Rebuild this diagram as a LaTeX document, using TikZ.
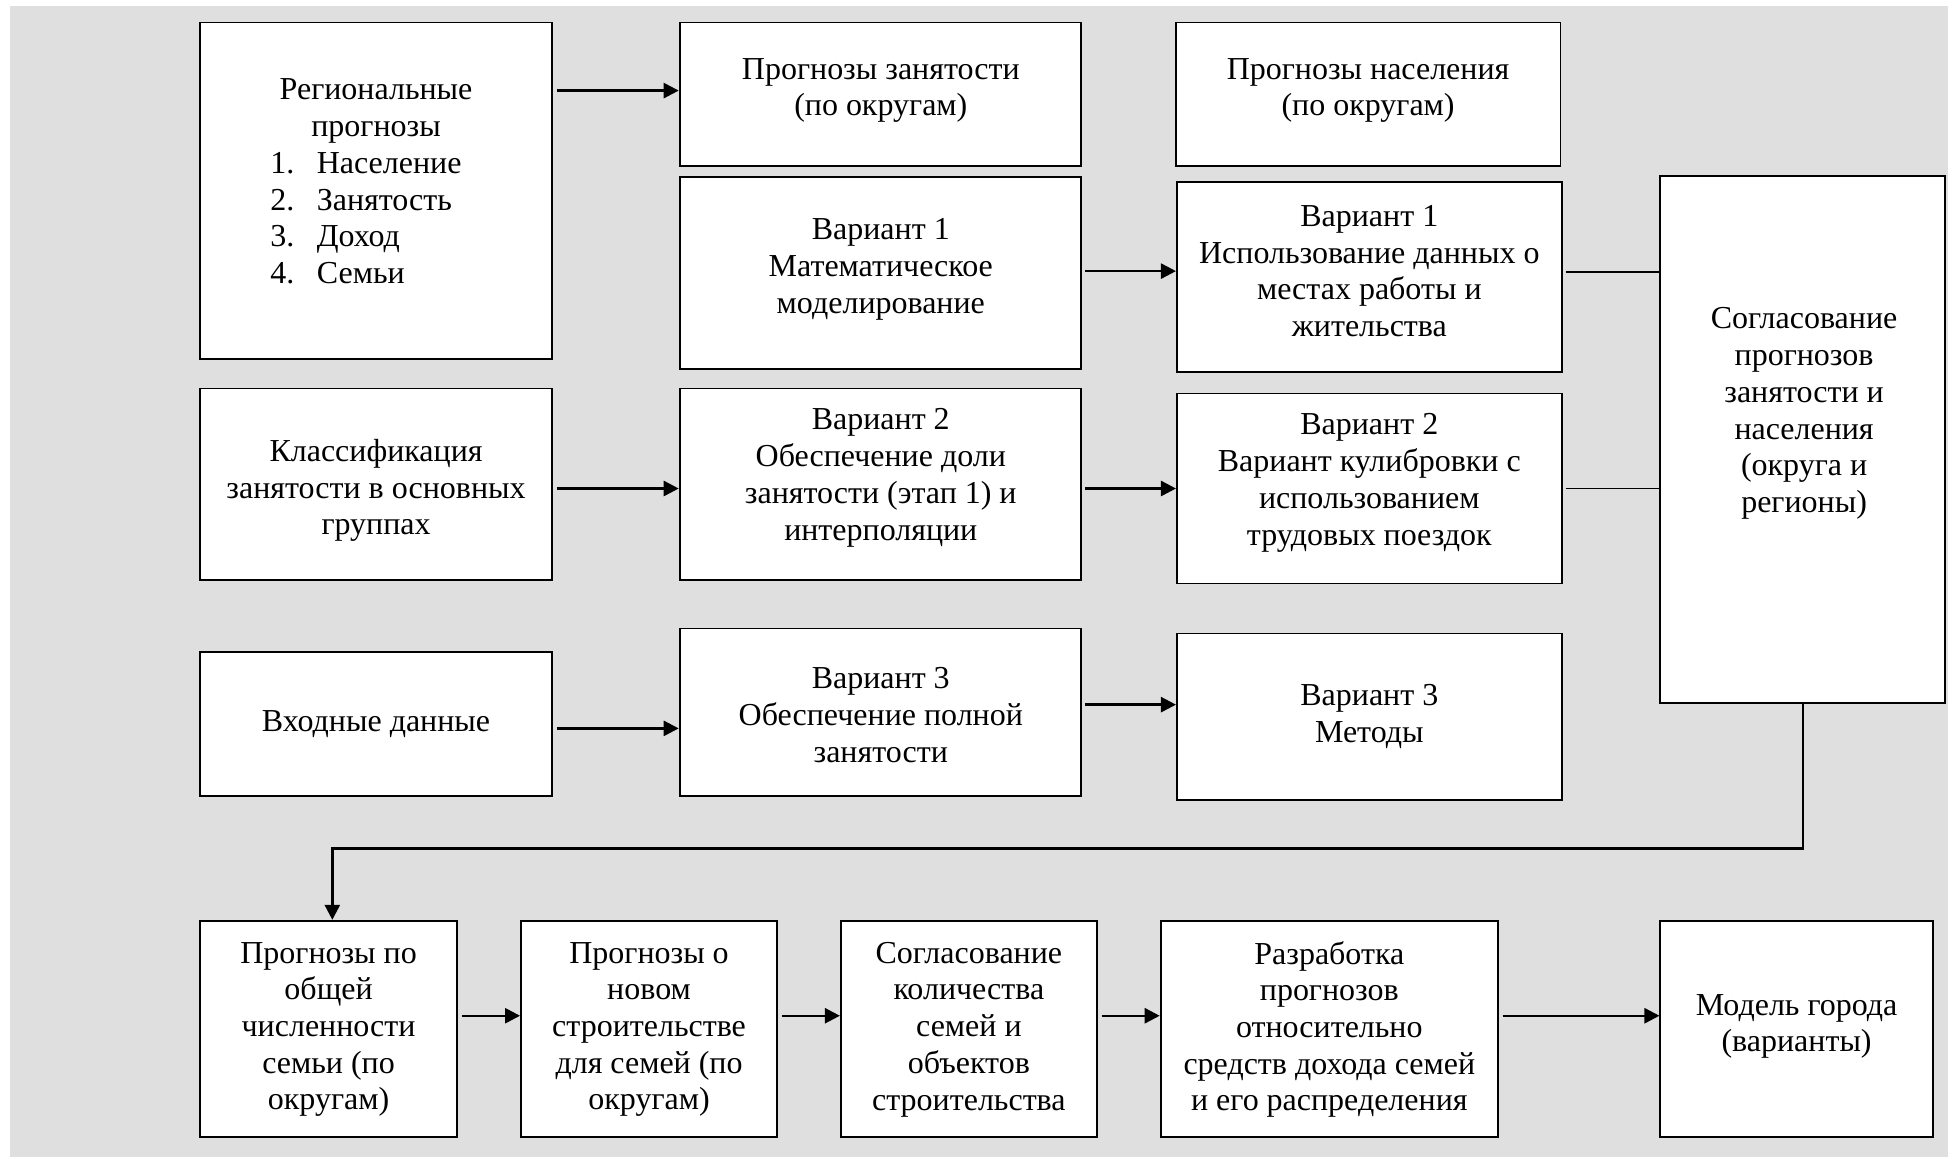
\documentclass[tikz,border=0pt]{standalone}
\usepackage{fontspec}
\setmainfont{Liberation Serif}
\usetikzlibrary{arrows.meta}
\definecolor{panel}{RGB}{223,223,223}
\begin{document}
\begin{tikzpicture}[x=0.5pt,y=-0.5pt,
  box/.style={draw=black,fill=white,line width=0.75pt,inner sep=0pt},
  txt/.style={align=center,inner sep=0pt,yshift=-1.25pt,font=\fontsize{12.8}{14.7}\selectfont},
  lst/.style={align=left,inner sep=0pt,anchor=west,yshift=-1.25pt,font=\fontsize{12.8}{14.7}\selectfont},
  arr/.style={line width=1pt,-{Triangle[length=6pt,width=6pt]},shorten <=1.5pt},
  link/.style={line width=0.75pt,shorten <=1.3pt}]
\useasboundingbox (0,0) rectangle (1568,927);
\fill[panel] (8,5) rectangle (1559,926);

% upper block of boxes
\node[box,minimum width=141pt,minimum height=134.5pt] (A) at (301,152.5) {};
\node[box,minimum width=160.5pt,minimum height=57.5pt] (B) at (704.5,75.5) {};
\node[box,minimum width=154pt,minimum height=57.5pt] (C) at (1095,75.5) {};
\node[box,minimum width=160.5pt,minimum height=76.5pt] (D) at (704.5,218.5) {};
\node[box,minimum width=154pt,minimum height=76pt] (E) at (1096,222) {};
\node[box,minimum width=114pt,minimum height=211pt] (F) at (1443,352) {};
\node[box,minimum width=141pt,minimum height=76.5pt] (G) at (301,387.5) {};
\node[box,minimum width=160.5pt,minimum height=76.5pt] (H) at (704.5,387.5) {};
\node[box,minimum width=154pt,minimum height=76pt] (I) at (1096,391) {};
\node[box,minimum width=141pt,minimum height=57.5pt] (J) at (301,579.5) {};
\node[box,minimum width=160.5pt,minimum height=67pt] (K) at (704.5,570) {};
\node[box,minimum width=154pt,minimum height=66.5pt] (L) at (1096,573.5) {};

% lower chain
\node[box,minimum width=103pt,minimum height=86.5pt] (M) at (263,823.5) {};
\node[box,minimum width=102.5pt,minimum height=86.5pt] (N) at (519.5,823.5) {};
\node[box,minimum width=102.5pt,minimum height=86.5pt] (O) at (775.5,823.5) {};
\node[box,minimum width=135pt,minimum height=86.5pt] (P) at (1064,823.5) {};
\node[box,minimum width=109pt,minimum height=86.5pt] (Q) at (1438,823.5) {};

% labels
\node[txt] (Ahead) at (301,86.5) {Региональные\\прогнозы};
\node[lst] (Alist) at (216,174.5) {%
  \begin{tabular}{@{}l@{\hspace{9pt}}l@{}}
  1.&Население\\ 2.&Занятость\\ 3.&Доход\\ 4.&Семьи
  \end{tabular}};
\node[txt] (Bt) at (705,70) {Прогнозы занятости\\(по округам)};
\node[txt] (Ct) at (1095,70) {Прогнозы населения\\(по округам)};
\node[txt] (Dt) at (705,213) {Вариант 1\\Математическое\\моделирование};
\node[txt] (Et) at (1096,214.5) {Вариант 1\\Использование данных о\\местах работы и\\жительства};
\node[txt] (Ft) at (1444,328.5) {Согласование\\прогнозов\\занятости и\\населения\\(округа и\\регионы)};
\node[txt] (Gt) at (301,390) {Классификация\\занятости в основных\\группах};
\node[txt] (Ht) at (705,380) {Вариант 2\\Обеспечение доли\\занятости (этап 1) и\\интерполяции};
\node[txt] (It) at (1096,384) {Вариант 2\\Вариант кулибровки с\\использованием\\трудовых поездок};
\node[txt] (Jt) at (301,577) {Входные данные};
\node[txt] (Kt) at (705,570) {Вариант 3\\Обеспечение полной\\занятости};
\node[txt] (Lt) at (1096,571) {Вариант 3\\Методы};
\node[txt] (Mt) at (263,821.5) {Прогнозы по\\общей\\численности\\семьи (по\\округам)};
\node[txt] (Nt) at (519.5,821.5) {Прогнозы о\\новом\\строительстве\\для семей (по\\округам)};
\node[txt] (Ot) at (775.5,821.5) {Согласование\\количества\\семей и\\объектов\\строительства};
\node[txt] (Pt) at (1064,821.5) {Разработка\\прогнозов\\относительно\\средств дохода семей\\и его распределения};
\node[txt] (Qt) at (1438,819) {Модель города\\(варианты)};

% connectors
\draw[arr] (A.east |- 0,72.5) -- (B.west |- 0,72.5);
\draw[arr] (D.east |- 0,217) -- (E.west |- 0,217);
\draw[arr] (G.east |- 0,391) -- (H.west |- 0,391);
\draw[arr] (H.east |- 0,391) -- (I.west |- 0,391);
\draw[arr] (J.east |- 0,583) -- (K.west |- 0,583);
\draw[arr] (K.east |- 0,564) -- (L.west |- 0,564);
\draw[link] (E.east |- 0,217.5) -- (F.west |- 0,217.5);
\draw[link] (I.east |- 0,391) -- (F.west |- 0,391);
\coordinate (turn) at (266,679);
\draw[arr,shorten <=0pt] (F.south) |- (turn) -- (turn |- M.north);
\draw[arr] (M.east |- 0,813) -- (N.west |- 0,813);
\draw[arr] (N.east |- 0,813) -- (O.west |- 0,813);
\draw[arr] (O.east |- 0,813) -- (P.west |- 0,813);
\draw[arr] (P.east |- 0,813) -- (Q.west |- 0,813);
\end{tikzpicture}
\end{document}
